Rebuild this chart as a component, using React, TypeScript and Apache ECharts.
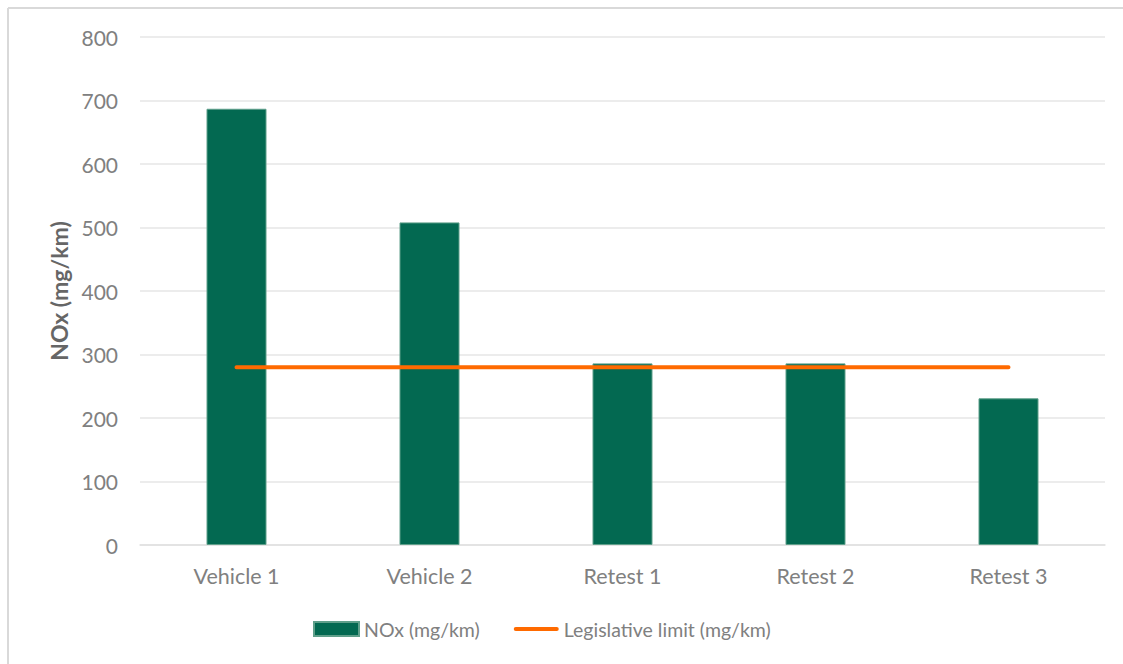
import React, { useEffect, useRef } from "react";
import * as echarts from "echarts";

const categories = ["Vehicle 1", "Vehicle 2", "Retest 1", "Retest 2", "Retest 3"];
const noxValues = [687, 508, 286, 286, 231];
const limitValues = [280, 280, 280, 280, 280];
const yTicks = { min: 0, max: 800, interval: 100 };

export default function App() {
  const ref = useRef<HTMLDivElement>(null);
  useEffect(() => {
    if (!ref.current) return;
    const chart = echarts.init(ref.current, null, { renderer: "svg" });
    const font = "Lato, 'Liberation Sans', sans-serif";
    chart.setOption({
      animation: false,
      backgroundColor: "#ffffff",
      textStyle: { fontFamily: font },
      graphic: [
        { type: "line", shape: { x1: 8, y1: 8, x2: 1123, y2: 8 }, style: { stroke: "#d9d9d9", lineWidth: 2 } },
        { type: "line", shape: { x1: 8, y1: 8, x2: 8, y2: 664 }, style: { stroke: "#d9d9d9", lineWidth: 2 } },
      ],
      grid: { left: 140, right: 18, top: 37, bottom: 119, containLabel: false },
      legend: {
        bottom: 20,
        left: 308,
        itemWidth: 45,
        itemHeight: 14,
        itemGap: 34,
        symbolKeepAspect: true,
        textStyle: { color: "#808080", fontSize: 19.5, fontFamily: font, padding: [0, 0, 0, 0] },
        data: [
          { name: "NOx (mg/km)", icon: "rect" },
          {
            name: "Legislative limit (mg/km)",
            icon: "path://M2,0 L43,0 A2,2 0 0 1 43,4 L2,4 A2,2 0 0 1 2,0 Z",
            symbolKeepAspect: true,
          },
        ],
      },
      xAxis: {
        type: "category",
        data: categories,
        axisLine: { show: true, lineStyle: { color: "#e0e0e0", width: 1.5 } },
        axisTick: { show: false },
        axisLabel: { color: "#808080", fontSize: 21.5, margin: 20, fontFamily: font },
      },
      yAxis: {
        type: "value",
        min: yTicks.min,
        max: yTicks.max,
        interval: yTicks.interval,
        name: "NOx (mg/km)",
        nameLocation: "middle",
        nameGap: 69,
        nameTextStyle: { color: "#666666", fontSize: 23, fontWeight: "bold", fontFamily: font },
        axisLine: { show: false },
        axisTick: { show: false },
        axisLabel: { color: "#808080", fontSize: 21, margin: 22, fontFamily: font },
        splitLine: { lineStyle: { color: "#e6e6e6", width: 1.5 } },
      },
      series: [
        {
          name: "NOx (mg/km)",
          type: "bar",
          data: noxValues,
          barWidth: 60,
          itemStyle: { color: "#036951", borderColor: "#5f9f8a", borderWidth: 1 },
        },
        {
          name: "Legislative limit (mg/km)",
          type: "line",
          data: limitValues,
          symbol: "none",
          lineStyle: { color: "#ff6a00", width: 4, cap: "round" },
          itemStyle: { color: "#ff6a00" },
        },
      ],
    });
    return () => chart.dispose();
  }, []);
  return (
    <div
      ref={ref}
      style={{ position: "fixed", left: 0, top: 0, width: 1123, height: 664 }}
    />
  );
}
